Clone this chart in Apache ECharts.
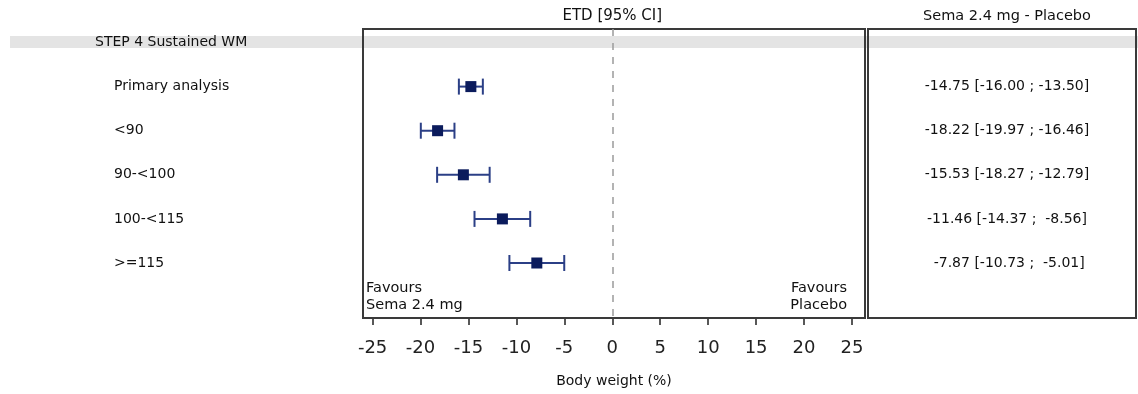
<!DOCTYPE html>
<html>
<head>
<meta charset="utf-8">
<script src="https://cdn.jsdelivr.net/npm/echarts@6/dist/echarts.min.js"></script>
<style>
  html, body { margin: 0; background: #fff; }
  #chart { width: 1138px; height: 394px; }
</style>
</head>
<body>
<div id="chart"></div>
<script>
const groupTitle = "STEP 4 Sustained WM";
const subgroups = ["Primary analysis", "<90", "90-<100", "100-<115", ">=115"];
const etd = [-14.75, -18.22, -15.53, -11.46, -7.87];
const ciLow = [-16.0, -19.97, -18.27, -14.37, -10.73];
const ciHigh = [-13.5, -16.46, -12.79, -8.56, -5.01];
const xTicks = [-25, -20, -15, -10, -5, 0, 5, 10, 15, 20, 25];
const plotHeader = "ETD [95% CI]";
const tableHeader = "Sema 2.4 mg - Placebo";
const favoursLeft = "Favours\nSema 2.4 mg";
const favoursRight = "Favours\nPlacebo";
const xTitle = "Body weight (%)";

const X_MIN = -26, X_MAX = 26.36;
const Y_MIN = -0.306, Y_MAX = 6.247;
const FAVOURS_ROW = 5.76;

const FONT = "DejaVu Sans";
const markerColor = "#0b1b5c";
const barColor = "#2b3f86";
const boxColor = "#3a3a3a";
const textColor = "#111";

const fmt = (v, w) => v.toFixed(2).padStart(w, " ");
const tableText = etd.map((v, i) => `${fmt(v, 6)} [${fmt(ciLow[i], 6)} ; ${fmt(ciHigh[i], 6)}]`);

const chart = echarts.init(document.getElementById("chart"));

const option = {
  animation: false,
  textStyle: { fontFamily: FONT, color: textColor },
  grid: [
    { left: 363, top: 29, width: 502, height: 289, show: true, borderColor: boxColor, borderWidth: 2, backgroundColor: "transparent", z: 3 },
    { left: 868, top: 29, width: 268, height: 289, show: true, borderColor: boxColor, borderWidth: 2, backgroundColor: "transparent", z: 3 },
  ],
  xAxis: [
    {
      gridIndex: 0,
      type: "value",
      min: X_MIN,
      max: X_MAX,
      axisLine: { show: false, onZero: false },
      splitLine: { show: false },
      axisTick: { show: true, customValues: xTicks, length: 7, lineStyle: { color: "#222", width: 1.5 } },
      axisLabel: {
        customValues: xTicks,
        margin: 21,
        fontSize: 18,
        fontFamily: FONT,
        color: "#222",
        formatter: (v) => String(v),
      },
      name: xTitle,
      nameLocation: "middle",
      nameGap: 56,
      nameTextStyle: { fontSize: 14, fontFamily: FONT, color: textColor },
    },
    { gridIndex: 1, type: "value", min: 0, max: 1, show: false },
  ],
  yAxis: [
    {
      gridIndex: 0,
      type: "value",
      inverse: true,
      min: Y_MIN,
      max: Y_MAX,
      axisLine: { show: false, onZero: false },
      axisTick: { show: false },
      splitLine: { show: false },
      axisLabel: {
        customValues: [0, 1, 2, 3, 4, 5],
        align: "left",
        margin: 268,
        formatter: (v) => (v === 0 ? `{h|${groupTitle}}` : `{r|${subgroups[v - 1]}}`),
        rich: {
          h: { fontSize: 14, fontFamily: FONT, color: textColor },
          r: { fontSize: 14, fontFamily: FONT, color: textColor, padding: [0, 0, 0, 19] },
        },
      },
    },
    { gridIndex: 1, type: "value", inverse: true, min: Y_MIN, max: Y_MAX, show: false },
  ],
  series: [
    {
      type: "custom",
      xAxisIndex: 0,
      yAxisIndex: 0,
      z: 4,
      data: ciLow.map((lo, i) => [lo, ciHigh[i], i + 1]),
      renderItem: (params, api) => {
        const y = api.value(2);
        const a = api.coord([api.value(0), y]);
        const b = api.coord([api.value(1), y]);
        const h = 8;
        const st = { stroke: barColor, lineWidth: 2 };
        return {
          type: "group",
          children: [
            { type: "line", shape: { x1: a[0], y1: a[1], x2: b[0], y2: b[1] }, style: st },
            { type: "line", shape: { x1: a[0], y1: a[1] - h, x2: a[0], y2: a[1] + h }, style: st },
            { type: "line", shape: { x1: b[0], y1: b[1] - h, x2: b[0], y2: b[1] + h }, style: st },
          ],
        };
      },
    },
    {
      type: "scatter",
      xAxisIndex: 0,
      yAxisIndex: 0,
      z: 5,
      symbol: "rect",
      symbolSize: 11,
      itemStyle: { color: markerColor, opacity: 1 },
      data: etd.map((v, i) => [v, i + 1]),
      markLine: {
        silent: true,
        symbol: "none",
        label: { show: false },
        lineStyle: { color: "#9a9a9a", type: [7, 7], width: 1.5 },
        data: [{ xAxis: 0 }],
      },
    },
    {
      type: "scatter",
      xAxisIndex: 0,
      yAxisIndex: 0,
      symbolSize: 0,
      silent: true,
      itemStyle: { opacity: 1 },
      data: [
        { value: [X_MIN, FAVOURS_ROW], name: favoursLeft, label: { position: "right", distance: 3, align: "left" } },
        { value: [X_MAX, FAVOURS_ROW], name: favoursRight, label: { position: "left", distance: 18, align: "right" } },
      ],
      label: {
        show: true,
        formatter: "{b}",
        fontSize: 14.5,
        lineHeight: 17,
        fontFamily: FONT,
        color: textColor,
      },
    },
    {
      type: "scatter",
      xAxisIndex: 1,
      yAxisIndex: 1,
      symbolSize: 0,
      silent: true,
      itemStyle: { opacity: 1 },
      data: tableText.map((t, i) => ({ value: [0.5, i + 1], name: t })),
      label: {
        show: true,
        position: "inside",
        offset: [5, 0],
        formatter: "{b}",
        fontSize: 14,
        fontFamily: FONT,
        color: textColor,
      },
    },
  ],
};

chart.setOption(option);

// header band + column headers, placed from the axes
const bandTop = chart.convertToPixel({ yAxisIndex: 0 }, -0.147);
const bandBot = chart.convertToPixel({ yAxisIndex: 0 }, 0.125);
const zeroX = chart.convertToPixel({ xAxisIndex: 0 }, 0);
const tableX = chart.convertToPixel({ xAxisIndex: 1 }, 0.5);

chart.setOption({
  graphic: [
    {
      type: "rect",
      z: -10,
      silent: true,
      shape: { x: 10, y: bandTop, width: 1128, height: bandBot - bandTop },
      style: { fill: "#e4e4e4" },
    },
    {
      type: "text",
      x: zeroX,
      y: 16,
      style: { text: plotHeader, align: "center", verticalAlign: "middle", fontSize: 15, fontFamily: FONT, fill: textColor },
    },
    {
      type: "text",
      x: tableX + 5,
      y: 16,
      style: { text: tableHeader, align: "center", verticalAlign: "middle", fontSize: 14.5, fontFamily: FONT, fill: textColor },
    },
  ],
});
</script>
</body>
</html>
